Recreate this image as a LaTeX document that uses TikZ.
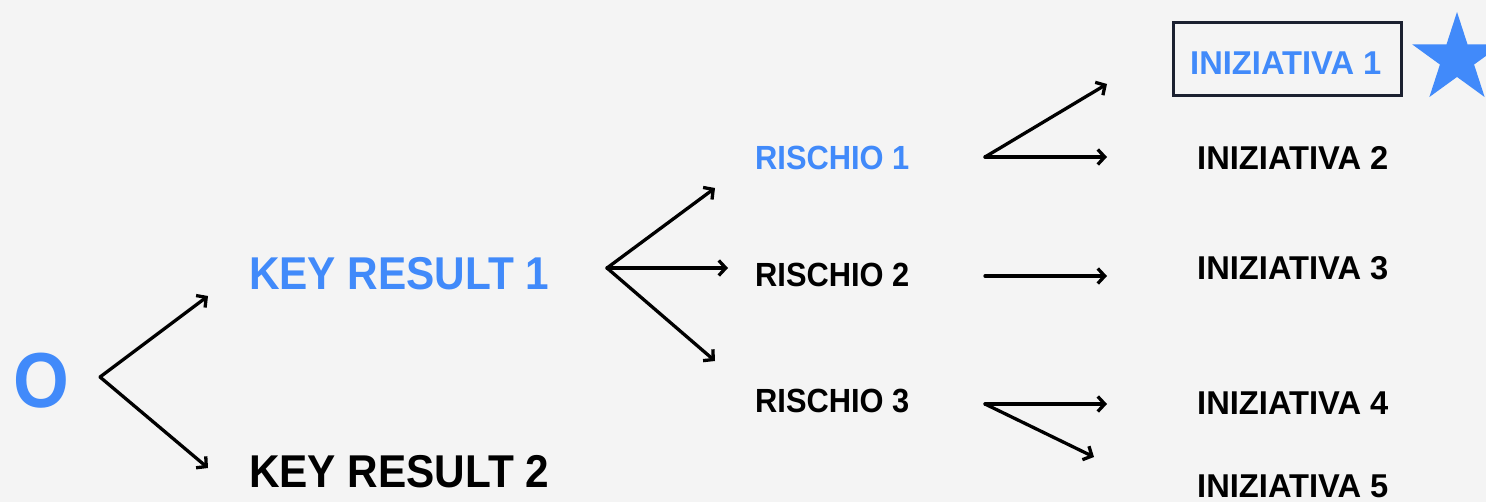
\documentclass[tikz,border=0pt]{standalone}
\usepackage{fontspec}
\usetikzlibrary{arrows.meta,shapes.geometric}
\newfontfamily\lblfont{Liberation Sans}[FakeStretch=0.92]
\newfontfamily\widefont{Liberation Sans}[FakeStretch=0.99]
\definecolor{okrblue}{HTML}{418AFA}
\definecolor{okrbg}{HTML}{F4F4F4}
\definecolor{boxnavy}{HTML}{1B2030}
\begin{document}
\begin{tikzpicture}[x=1pt,y=-1pt,
  lbl/.style={inner sep=0pt,anchor=base west,font=\lblfont\bfseries},
  big/.style={lbl,font=\lblfont\bfseries\fontsize{78}{78}\selectfont},
  krtext/.style={lbl,font=\lblfont\bfseries\fontsize{46}{46}\selectfont},
  smalltext/.style={lbl,font=\lblfont\bfseries\fontsize{33.5}{34}\selectfont},
  inittext/.style={lbl,font=\widefont\bfseries\fontsize{33}{34}\selectfont},
  arr/.style={line width=3.3pt,line cap=round,line join=round,
    -{Straight Barb[length=7pt,width=15pt,line width=3.3pt]}}]
  \fill[okrbg] (0,0) rectangle (1486,502);
  \useasboundingbox (0,0) rectangle (1486,502);

  % objective and key results
  \node[big,text=okrblue] (obj) at (13,408) {O};
  \node[krtext,text=okrblue] (kr1) at (249,290) {KEY RESULT 1};
  \node[krtext] (kr2) at (249,487) {KEY RESULT 2};

  % risks
  \node[smalltext,text=okrblue] (r1) at (755,170) {RISCHIO 1};
  \node[smalltext] (r2) at (755,287) {RISCHIO 2};
  \node[smalltext] (r3) at (755,413) {RISCHIO 3};

  % initiatives
  \node[inittext,text=okrblue] (i1) at (1190,75) {INIZIATIVA 1};
  \node[inittext] (i2) at (1197,170) {INIZIATIVA 2};
  \node[inittext] (i3) at (1197,280) {INIZIATIVA 3};
  \node[inittext] (i4) at (1197,414) {INIZIATIVA 4};
  \node[inittext] (i5) at (1197,497) {INIZIATIVA 5};

  % highlight frame and star
  \node[draw=boxnavy,line width=3pt,minimum width=228pt,minimum height=73pt,
        inner sep=0pt] (frame) at (1287.5,59) {};
  \node[star,star points=5,star point ratio=2.618,minimum size=94pt,
        inner sep=0pt,fill=okrblue] (mark1) at (1457,59) {};

  % fork points and arrow ends
  \coordinate (ofork) at (100,377);
  \coordinate (okr1) at (208,296);
  \coordinate (okr2) at (208,468);

  \coordinate (krfork) at (607,268);
  \coordinate (kra) at (715,188);
  \coordinate (krb) at (728,268);
  \coordinate (krc) at (715,361);

  \coordinate (r1fork) at (985,157);
  \coordinate (r1a) at (1107,84);
  \coordinate (r1b) at (1107,157);

  \coordinate (r2start) at (985,276);
  \coordinate (r2a) at (1107,276);

  \coordinate (r3fork) at (985,404);
  \coordinate (r3a) at (1107,404);
  \coordinate (r3b) at (1094,457);

  \draw[arr] (ofork) -- (okr1);
  \draw[arr] (ofork) -- (okr2);
  \draw[arr] (krfork) -- (kra);
  \draw[arr] (krfork) -- (krb);
  \draw[arr] (krfork) -- (krc);
  \draw[arr] (r1fork) -- (r1a);
  \draw[arr] (r1fork) -- (r1b);
  \draw[arr] (r2start) -- (r2a);
  \draw[arr] (r3fork) -- (r3a);
  \draw[arr] (r3fork) -- (r3b);
\end{tikzpicture}
\end{document}
